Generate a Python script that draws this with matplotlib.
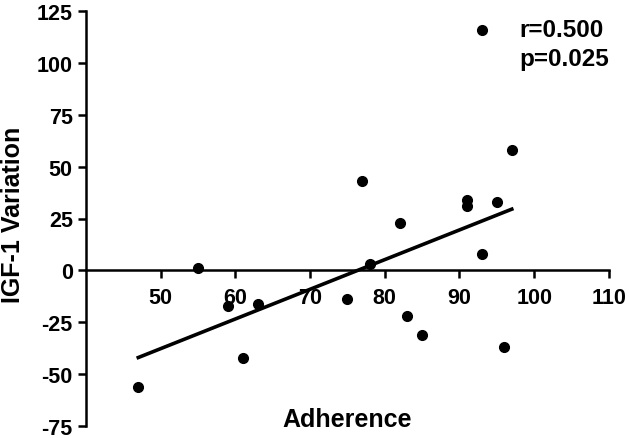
import numpy as np
import matplotlib
matplotlib.use('Agg')
import matplotlib.pyplot as plt

plt.rcParams['font.family'] = ['Liberation Sans', 'DejaVu Sans']
plt.rcParams['font.weight'] = 'bold'
plt.rcParams['axes.unicode_minus'] = False

# datos
adherence = [47, 55, 59, 61, 63, 75, 78, 77, 82, 83, 85, 91, 91, 93, 93, 95, 96, 97]
igf1_var = [-56, 1, -17, -42, -16, -14, 3, 43, 23, -22, -31, 34, 31, 116, 8, 33, -37, 58]
# extremos de la recta de regresion
fit_x = [47, 97]
fit_y = [-42, 29.5]
x_ticks = [50, 60, 70, 80, 90, 100, 110]
y_ticks = [-75, -50, -25, 0, 25, 50, 75, 100, 125]

fig = plt.figure(figsize=(6.3, 4.39), dpi=100)
ax = fig.add_axes([0.1365, 0.0273, 0.830, 0.9454])

ax.plot(adherence, igf1_var, 'o', color='black', markersize=7)
ax.plot(fit_x, fit_y, color='black', linewidth=2.6)

ax.set_xlim(40, 110)
ax.set_ylim(-75, 125)
ax.set_xticks(x_ticks)
ax.set_yticks(y_ticks)

ax.spines['top'].set_visible(False)
ax.spines['right'].set_visible(False)
ax.spines['bottom'].set_position(('data', 0))
for s in ('left', 'bottom'):
    ax.spines[s].set_linewidth(1.8)
ax.tick_params(width=1.8, length=6, labelsize=15.5, direction='out')
ax.tick_params(axis='x', pad=6)
for lab in ax.get_xticklabels() + ax.get_yticklabels():
    lab.set_fontweight('bold')

ax.text(0.5, 0.018, 'Adherence', transform=ax.transAxes, ha='center', va='center',
        fontsize=18, fontweight='bold')
fig.text(0.021, 0.51, 'IGF-1 Variation', rotation=90, ha='center', va='center',
         fontsize=18, fontweight='bold')

ax.text(98.0, 121.5, 'r=0.500\np=0.025', ha='left', va='top', fontsize=17.5,
        fontweight='bold', linespacing=1.3)

fig.savefig('out.png', dpi=100)
plt.close(fig)
